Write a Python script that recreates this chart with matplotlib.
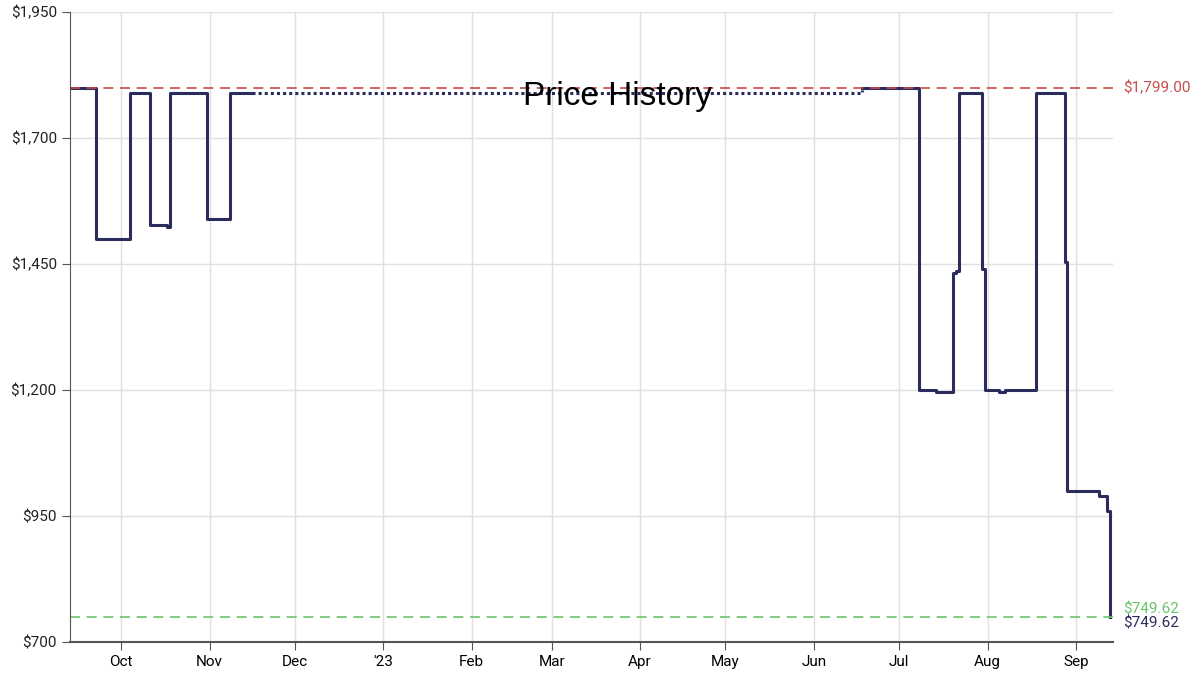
import matplotlib
matplotlib.use("Agg")
import matplotlib.pyplot as plt
import matplotlib.dates as mdates
from matplotlib.ticker import FuncFormatter
import pandas as pd

# step changes (date, price) - solid segments
seg1_dates = ["2022-09-13","2022-09-22","2022-10-04","2022-10-11","2022-10-17","2022-10-18",
              "2022-10-31","2022-11-08","2022-11-16"]
seg1_prices = [1799,1500,1790,1527,1523,1790,1540,1790,1790]
gap_dates = ["2022-11-16","2023-06-18"]
gap_prices = [1790,1795]
seg2_dates = ["2023-06-18","2023-07-08","2023-07-14","2023-07-16","2023-07-20","2023-07-21","2023-07-22",
              "2023-07-29","2023-07-30","2023-07-31","2023-08-05","2023-08-07","2023-08-18",
              "2023-08-26","2023-08-28","2023-08-29","2023-09-08","2023-09-09","2023-09-12","2023-09-13"]
seg2_prices = [1799,1200,1197,1197,1433,1437,1790,1790,1440,1200,1197,1200,1790,
               1790,1454,1000,1000,990,960,749.62]
high_price = 1799.00
low_price = 749.62
yticks = [700,950,1200,1450,1700,1950]

fig = plt.figure(figsize=(12,6.81), dpi=100)
ax = fig.add_axes([70/1200, 39/681, 1043/1200, 630/681])
navy = "#2b2b5e"
d1 = pd.to_datetime(seg1_dates); d2 = pd.to_datetime(seg2_dates); dg = pd.to_datetime(gap_dates)
ax.step(d1, seg1_prices, where="post", color=navy, lw=2.2)
ax.step(dg, gap_prices, where="post", color=navy, lw=2.2, ls=(0,(1,1)))
ax.step(d2, seg2_prices, where="post", color=navy, lw=2.2)
ax.axhline(high_price, color="#c84a4a", ls=(0,(6,4)), lw=1.2)
ax.axhline(low_price, color="#6cc46c", ls=(0,(6,4)), lw=1.2)

ax.set_xlim(pd.Timestamp("2022-09-13"), pd.Timestamp("2023-09-14"))
ax.set_ylim(700,1950)
ax.set_yticks(yticks)
ax.set_yticklabels([f"${v:,}" for v in yticks], fontsize=11, family="Roboto", color="#222")
ax.xaxis.set_major_locator(mdates.MonthLocator())
ax.xaxis.set_major_formatter(FuncFormatter(lambda v,p: "'23" if mdates.num2date(v).month==1 else mdates.num2date(v).strftime("%b")))
ax.tick_params(axis="x", labelsize=11, length=6, color="#555")
ax.tick_params(axis="y", length=6, color="#555")
for lab in ax.get_xticklabels(): lab.set_family("Roboto")
ax.grid(True, color="#e0e0e0", lw=1)
ax.set_axisbelow(True)
for s in ["top","right"]: ax.spines[s].set_visible(False)
ax.spines["left"].set_color("#555"); ax.spines["bottom"].set_color("#555")
ax.spines["bottom"].set_linewidth(1.5)
ax.text(0.525, 0.866, "Price History", transform=ax.transAxes, ha="center", va="center", fontsize=24, family="Liberation Sans")
ax.text(1.01, high_price, f"${high_price:,.2f}", transform=ax.get_yaxis_transform(), va="center", color="#c84a4a", fontsize=11, family="Roboto")
ax.text(1.01, low_price, f"${low_price:,.2f}", transform=ax.get_yaxis_transform(), va="bottom", color="#6cc46c", fontsize=11, family="Roboto")
ax.text(1.01, low_price, f"${low_price:,.2f}", transform=ax.get_yaxis_transform(), va="top", color=navy, fontsize=11, family="Roboto")
fig.savefig("out.png", dpi=100)
